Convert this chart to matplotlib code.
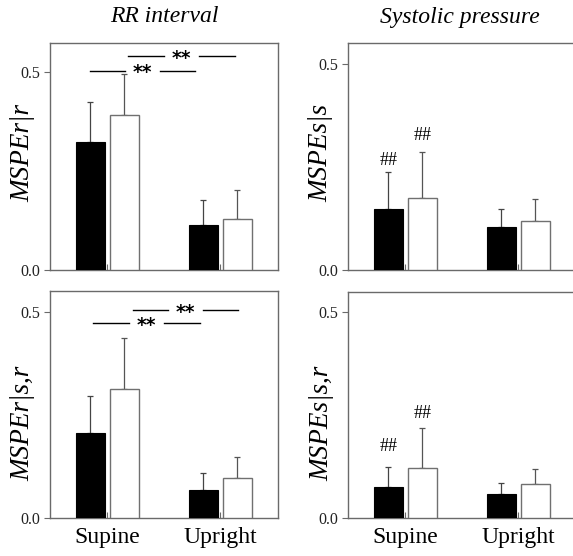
import matplotlib
matplotlib.use("Agg")
import matplotlib.pyplot as plt
import numpy as np

# ---------------- data ----------------
groups = ["Supine", "Upright"]
panel_titles = ["RR interval", "Systolic pressure"]
ylabels = ["MSPEr|r", "MSPEs|s", "MSPEr|s,r", "MSPEs|s,r"]
yticks = [0.0, 0.5]
ytick_labels = ["0.0", "0.5"]

# mean (black / white) and upper error-bar lengths (SD) per panel
tl_black = [0.324, 0.114]
tl_white = [0.391, 0.129]
tl_black_err = [0.099, 0.063]
tl_white_err = [0.104, 0.073]

tr_black = [0.147, 0.104]
tr_white = [0.174, 0.120]
tr_black_err = [0.090, 0.043]
tr_white_err = [0.113, 0.053]

bl_black = [0.207, 0.069]
bl_white = [0.313, 0.097]
bl_black_err = [0.088, 0.041]
bl_white_err = [0.124, 0.051]

br_black = [0.077, 0.058]
br_white = [0.123, 0.083]
br_black_err = [0.048, 0.027]
br_white_err = [0.095, 0.036]

sig_label = "**"
hash_label = "##"

# ---------------- figure ----------------
W, H = 573, 556
fig = plt.figure(figsize=(W / 100, H / 100), dpi=100)
serif = "Liberation Serif"
spine_c = "#6a6a6a"

def px_ax(left, top, right, bottom):
    return fig.add_axes([left / W, 1 - bottom / H, (right - left) / W, (bottom - top) / H])

ax_tl = px_ax(50, 43, 278, 270)
ax_tr = px_ax(348, 43, 576, 270)
ax_bl = px_ax(50, 291, 278, 518.3)
ax_br = px_ax(348, 291.5, 576, 518.3)

panels = [
    (ax_tl, tl_black, tl_white, tl_black_err, tl_white_err, 0.573),
    (ax_tr, tr_black, tr_white, tr_black_err, tr_white_err, 0.551),
    (ax_bl, bl_black, bl_white, bl_black_err, bl_white_err, 0.550),
    (ax_br, br_black, br_white, br_black_err, br_white_err, 0.550),
]

x = np.arange(len(groups))
bw = 0.257
off = 0.151

for i, (ax, b, w, be, we, ytop) in enumerate(panels):
    ax.bar(x - off, b, bw, color="black", edgecolor="black", linewidth=0.8, zorder=3)
    ax.bar(x + off, w, bw, color="white", edgecolor="#707070", linewidth=1.0, zorder=3)
    ax.errorbar(x - off, b, yerr=[np.zeros(len(be)), be], fmt="none",
                ecolor="#444444", elinewidth=0.9, capsize=2.5, capthick=0.9, zorder=2)
    ax.errorbar(x + off, w, yerr=[np.zeros(len(we)), we], fmt="none",
                ecolor="#555555", elinewidth=0.9, capsize=2.5, capthick=0.9, zorder=2)
    ax.set_xlim(-0.508, 1.51)
    ax.set_ylim(0, ytop)
    ax.set_yticks(yticks)
    ax.set_yticklabels(ytick_labels, fontfamily=serif, fontsize=11.5, color="#222222")
    ax.set_xticks(x)
    if i >= 2:
        ax.set_xticklabels(groups, fontfamily=serif, fontsize=17)
    else:
        ax.set_xticklabels([])
    ax.tick_params(axis="y", direction="out", length=4, width=0.8, color=spine_c, pad=3)
    ax.tick_params(axis="x", direction="in", length=4, width=0.8, color=spine_c, pad=6)
    for s in ax.spines.values():
        s.set_color(spine_c)
        s.set_linewidth(1.0)

# titles
fig.text(164 / W, 1 - 17 / H, panel_titles[0], fontfamily=serif, style="italic",
         fontsize=17, ha="center", va="center")
fig.text(460 / W, 1 - 17 / H, panel_titles[1], fontfamily=serif, style="italic",
         fontsize=17, ha="center", va="center")

# y labels
ylab_pos = [(23, 202), (321, 202), (23, 481), (322, 481)]
for lab, (px, py) in zip(ylabels, ylab_pos):
    fig.text(px / W, 1 - py / H, lab, fontfamily=serif, style="italic", fontsize=19.5,
             rotation=90, ha="center", va="bottom")

# significance lines with stars
def sig(ax, x0, x1, y, gap=0.155):
    xc = (x0 + x1) / 2
    ax.plot([x0, xc - gap], [y, y], color="black", lw=1.0, zorder=4, clip_on=False)
    ax.plot([xc + gap, x1], [y, y], color="black", lw=1.0, zorder=4, clip_on=False)
    ax.annotate(sig_label, (xc, y), xytext=(0, -1.5), textcoords="offset points",
                ha="center", va="center", fontsize=13.5, fontweight="bold",
                fontfamily="DejaVu Sans", zorder=5)

sig(ax_tl, -0.155, 0.774, 0.503)
sig(ax_tl, 0.181, 1.128, 0.539)
sig(ax_bl, -0.124, 0.819, 0.472)
sig(ax_bl, 0.226, 1.155, 0.504)

# hash marks over supine bars in systolic panels
def hashes(ax, b, be, w, we, offs_b, offs_w):
    ax.annotate(hash_label, (-off, b[0] + be[0]), xytext=(0, offs_b), textcoords="offset points",
                ha="center", va="bottom", fontfamily=serif, fontsize=13)
    ax.annotate(hash_label, (off, w[0] + we[0]), xytext=(0, offs_w), textcoords="offset points",
                ha="center", va="bottom", fontfamily=serif, fontsize=13)

hashes(ax_tr, tr_black, tr_black_err, tr_white, tr_white_err, 2.5, 5.5)
hashes(ax_br, br_black, br_black_err, br_white, br_white_err, 8.5, 4.5)

fig.savefig("out.png", dpi=100)
